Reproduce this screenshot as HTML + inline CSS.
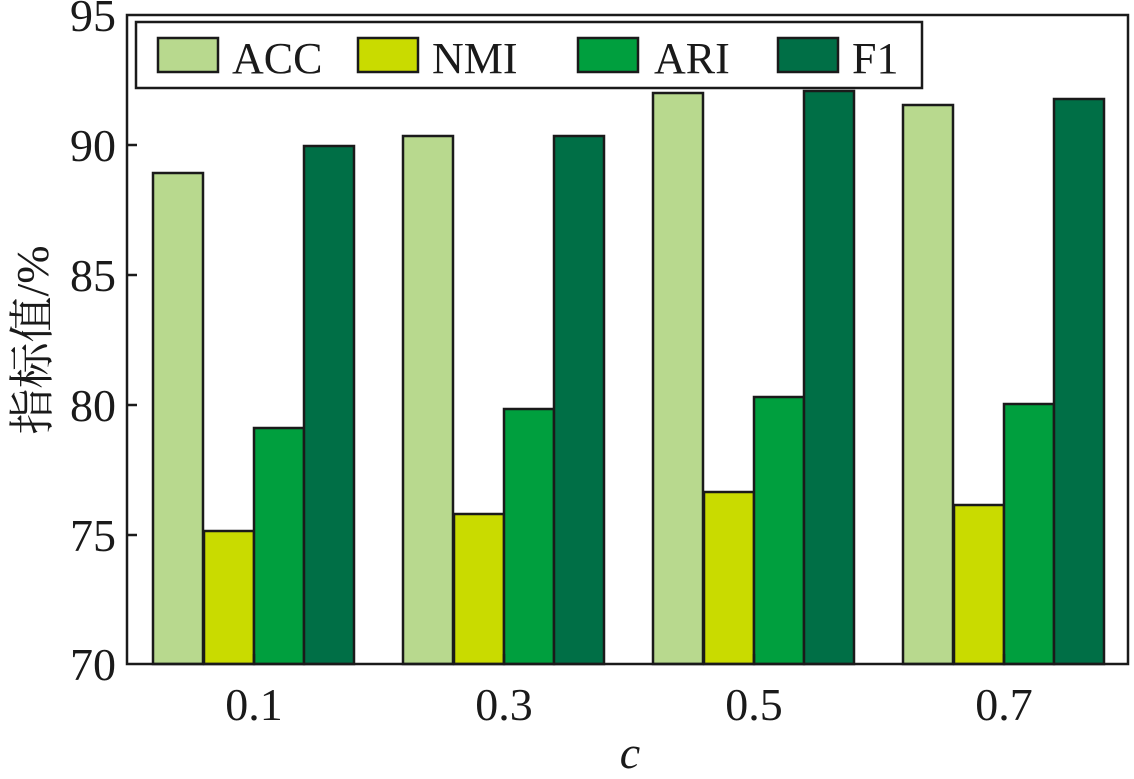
<!DOCTYPE html>
<html><head><meta charset="utf-8"><style>body{margin:0;background:#fff}</style></head><body>
<svg width="1134" height="774" xmlns="http://www.w3.org/2000/svg" font-family="Liberation Serif, serif">
<rect width="1134" height="774" fill="#fff"/>
<g stroke="#1a1a1a" stroke-width="2.5">
<rect x="153" y="173" width="50" height="491" fill="#b8d98e"/>
<rect x="204" y="531" width="50" height="133" fill="#c9db00"/>
<rect x="254" y="428" width="50" height="236" fill="#009f3e"/>
<rect x="304" y="146" width="50" height="518" fill="#006f46"/>
<rect x="403" y="136" width="50" height="528" fill="#b8d98e"/>
<rect x="454" y="514" width="50" height="150" fill="#c9db00"/>
<rect x="504" y="409" width="50" height="255" fill="#009f3e"/>
<rect x="554" y="136" width="50" height="528" fill="#006f46"/>
<rect x="653" y="93" width="50" height="571" fill="#b8d98e"/>
<rect x="704" y="492" width="50" height="172" fill="#c9db00"/>
<rect x="754" y="397" width="50" height="267" fill="#009f3e"/>
<rect x="804" y="91" width="50" height="573" fill="#006f46"/>
<rect x="903" y="105" width="50" height="559" fill="#b8d98e"/>
<rect x="954" y="505" width="50" height="159" fill="#c9db00"/>
<rect x="1004" y="404" width="50" height="260" fill="#009f3e"/>
<rect x="1054" y="99" width="50" height="565" fill="#006f46"/>
</g>
<rect x="127" y="15" width="1001" height="649" fill="none" stroke="#1a1a1a" stroke-width="2.5"/>
<g stroke="#1a1a1a" stroke-width="2.5">
<line x1="127" y1="145" x2="137" y2="145"/><line x1="127" y1="275" x2="137" y2="275"/>
<line x1="127" y1="405" x2="137" y2="405"/><line x1="127" y1="535" x2="137" y2="535"/>
<line x1="254" y1="664" x2="254" y2="654"/><line x1="504" y1="664" x2="504" y2="654"/>
<line x1="754" y1="664" x2="754" y2="654"/><line x1="1004" y1="664" x2="1004" y2="654"/>
</g>
<g font-size="46" fill="#1a1a1a" text-anchor="end">
<text x="116" y="31">95</text><text x="116" y="161">90</text><text x="116" y="291">85</text>
<text x="116" y="421">80</text><text x="116" y="551">75</text><text x="116" y="680">70</text>
</g>
<g font-size="46" fill="#1a1a1a" text-anchor="middle">
<text x="254" y="720">0.1</text><text x="504" y="720">0.3</text><text x="754" y="720">0.5</text><text x="1004" y="720">0.7</text>
<text x="630" y="768" font-style="italic">c</text>
</g>
<text transform="translate(48,340) rotate(-90)" font-size="46" text-anchor="middle" fill="#1a1a1a" font-family="Liberation Serif, Noto Serif CJK SC, serif">指标值/%</text>
<rect x="136" y="22" width="786" height="66" fill="#fff" stroke="#1a1a1a" stroke-width="2.5"/>
<g stroke="#1a1a1a" stroke-width="2.5">
<rect x="158" y="38" width="60" height="34" fill="#b8d98e"/>
<rect x="358" y="38" width="60" height="34" fill="#c9db00"/>
<rect x="578" y="38" width="60" height="34" fill="#009f3e"/>
<rect x="778" y="38" width="60" height="34" fill="#006f46"/>
</g>
<g font-size="44" fill="#1a1a1a">
<text x="232" y="73">ACC</text><text x="432" y="73">NMI</text><text x="654" y="73">ARI</text><text x="852" y="73">F1</text>
</g>
</svg>
</body></html>
